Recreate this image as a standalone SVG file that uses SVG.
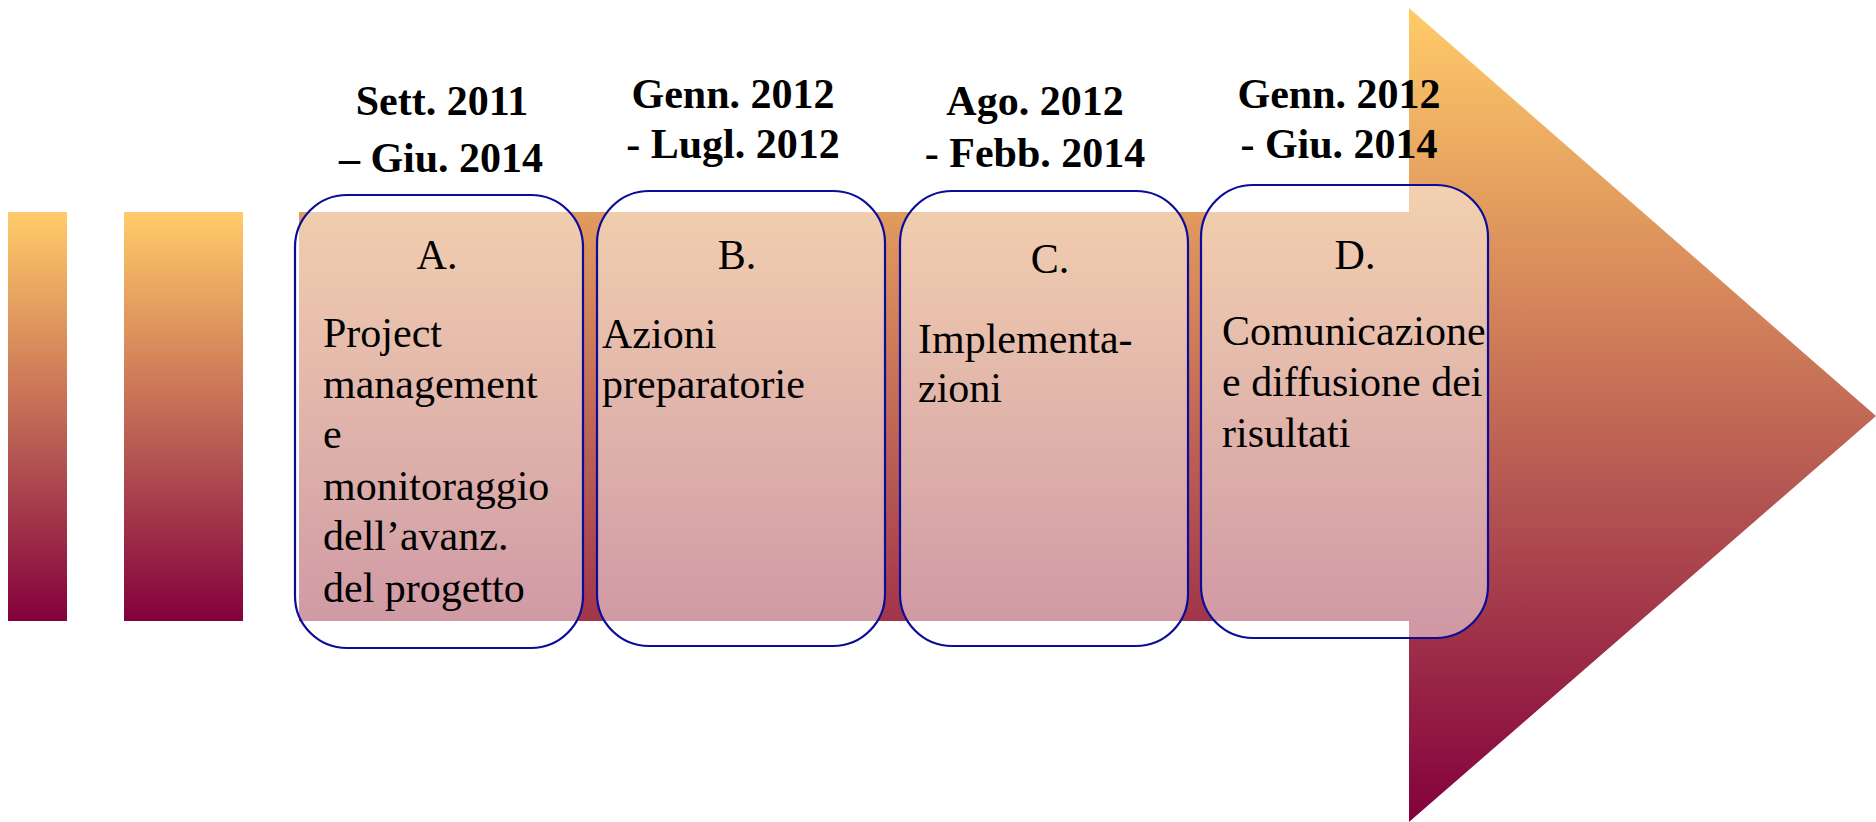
<svg xmlns="http://www.w3.org/2000/svg" width="1876" height="822" viewBox="0 0 1876 822">
<style>
.box{fill:#ffffff;fill-opacity:0.5;stroke:#0c0c9a;stroke-width:2.2}
.hd{font-family:"Liberation Serif","Times New Roman",serif;font-weight:bold;font-size:42px;fill:#000;text-anchor:middle}
.lt{font-family:"Liberation Serif","Times New Roman",serif;font-size:42px;fill:#000;text-anchor:middle}
.bd{font-family:"Liberation Serif","Times New Roman",serif;font-size:42px;fill:#000}
</style>
<defs>
<linearGradient id="gArrow" gradientUnits="userSpaceOnUse" x1="0" y1="8" x2="0" y2="822">
<stop offset="0" stop-color="#ffcc69"/>
<stop offset="0.3" stop-color="#dc915c"/>
<stop offset="0.6" stop-color="#b45552"/>
<stop offset="1" stop-color="#83003c"/>
</linearGradient>
<linearGradient id="gBar" gradientUnits="userSpaceOnUse" x1="0" y1="212" x2="0" y2="621">
<stop offset="0" stop-color="#ffcc69"/>
<stop offset="0.3" stop-color="#dc915c"/>
<stop offset="0.6" stop-color="#b45552"/>
<stop offset="1" stop-color="#83003c"/>
</linearGradient>
</defs>
<g id="background">
<rect x="8" y="212" width="59" height="409" fill="url(#gBar)"/>
<rect x="124" y="212" width="119" height="409" fill="url(#gBar)"/>
<polygon points="299,212 1409,212 1409,8 1876,416 1409,822 1409,621 299,621" fill="url(#gArrow)"/>
</g>
<g id="node-A">
<text class="hd" x="442" y="115">Sett. 2011</text>
<text class="hd" x="441" y="172">– Giu. 2014</text>
<rect class="box" x="295" y="195" width="288" height="453" rx="52" ry="52"/>
<text class="lt" x="437" y="269">A.</text>
<text class="bd" x="323" y="347">Project</text>
<text class="bd" x="323" y="398">management</text>
<text class="bd" x="323" y="448">e</text>
<text class="bd" x="323" y="500">monitoraggio</text>
<text class="bd" x="323" y="550">dell’avanz.</text>
<text class="bd" x="323" y="602">del progetto</text>
</g>
<g id="node-B">
<text class="hd" x="733" y="108">Genn. 2012</text>
<text class="hd" x="733" y="158">- Lugl. 2012</text>
<rect class="box" x="597" y="191" width="288" height="455" rx="52" ry="52"/>
<text class="lt" x="737" y="269">B.</text>
<text class="bd" x="602" y="348">Azioni</text>
<text class="bd" x="602" y="398">preparatorie</text>
</g>
<g id="node-C">
<text class="hd" x="1035" y="115">Ago. 2012</text>
<text class="hd" x="1035" y="167">- Febb. 2014</text>
<rect class="box" x="900" y="191" width="288" height="455" rx="52" ry="52"/>
<text class="lt" x="1050" y="273">C.</text>
<text class="bd" x="918" y="353">Implementa-</text>
<text class="bd" x="918" y="402">zioni</text>
</g>
<g id="node-D">
<text class="hd" x="1339" y="108">Genn. 2012</text>
<text class="hd" x="1339" y="158">- Giu. 2014</text>
<rect class="box" x="1201" y="185" width="287" height="453" rx="52" ry="52"/>
<text class="lt" x="1355" y="269">D.</text>
<text class="bd" x="1222" y="345">Comunicazione</text>
<text class="bd" x="1222" y="396">e diffusione dei</text>
<text class="bd" x="1222" y="447">risultati</text>
</g>
<g id="connectors"></g>
</svg>
